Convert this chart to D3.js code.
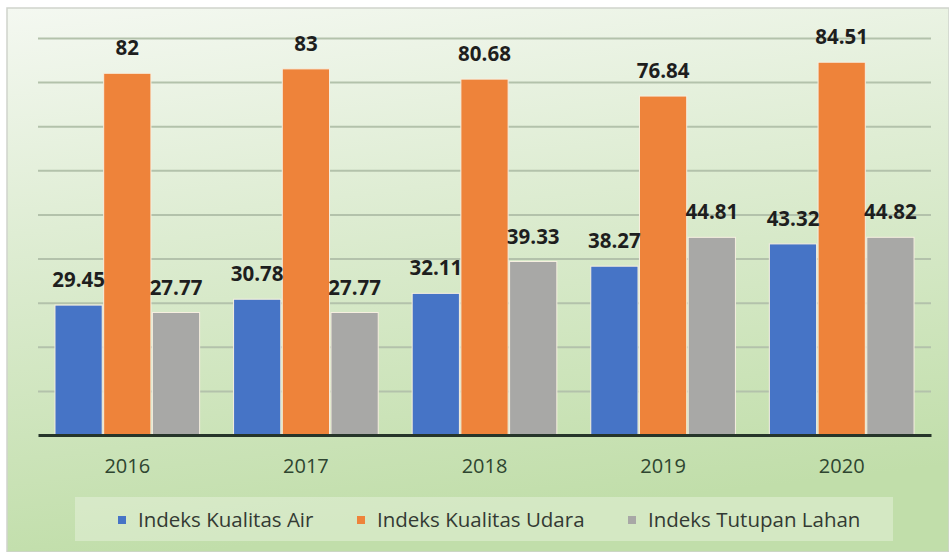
<!DOCTYPE html>
<html>
<head>
<meta charset="utf-8">
<script src="https://cdn.jsdelivr.net/npm/d3@7"></script>
<style>
  body { margin: 0; background: #fff; }
  svg { display: block; }
</style>
</head>
<body>
<div id="vis"></div>
<script>
// chart data
const years = ["2016", "2017", "2018", "2019", "2020"];
const seriesNames = ["Indeks Kualitas Air", "Indeks Kualitas Udara", "Indeks Tutupan Lahan"];
const kualitasAir = [29.45, 30.78, 32.11, 38.27, 43.32];
const kualitasUdara = [82, 83, 80.68, 76.84, 84.51];
const tutupanLahan = [27.77, 27.77, 39.33, 44.81, 44.82];
const labelsAir = ["29.45", "30.78", "32.11", "38.27", "43.32"];
const labelsUdara = ["82", "83", "80.68", "76.84", "84.51"];
const labelsLahan = ["27.77", "27.77", "39.33", "44.81", "44.82"];

const colors = ["#4674C6", "#EE833A", "#A8A8A6"];
const seriesValues = [kualitasAir, kualitasUdara, tutupanLahan];
const seriesLabels = [labelsAir, labelsUdara, labelsLahan];

const W = 949, H = 552;
const plot = { left: 38, right: 931, top: 38, bottom: 435 };

const svg = d3.select("#vis")
  .append("svg")
    .attr("width", W)
    .attr("height", H);

// background gradient
const defs = svg.append("defs");
const grad = defs.append("linearGradient")
    .attr("id", "bg")
    .attr("x1", 0).attr("y1", 0).attr("x2", 0.2).attr("y2", 1);
grad.append("stop").attr("offset", "0%").attr("stop-color", "#f4f8f1");
grad.append("stop").attr("offset", "40%").attr("stop-color", "#dfedd4");
grad.append("stop").attr("offset", "100%").attr("stop-color", "#c1deaa");

svg.append("rect")
    .attr("x", 7).attr("y", 8)
    .attr("width", W - 7).attr("height", H - 8)
    .attr("fill", "url(#bg)")
    .attr("stroke", "#cfd3cc")
    .attr("stroke-width", 1.5);

// scales
const x0 = d3.scaleBand()
    .domain(years)
    .range([plot.left, plot.right])
    .paddingInner(0.19)
    .paddingOuter(0.095);

const x1 = d3.scaleBand()
    .domain(seriesNames)
    .range([0, x0.bandwidth()])
    .paddingInner(0.03);

const y = d3.scaleLinear()
    .domain([0, 90])
    .range([plot.bottom, plot.top]);

// horizontal grid lines
svg.append("g")
    .attr("transform", `translate(${plot.left},0)`)
    .call(d3.axisLeft(y).tickValues(d3.range(10, 91, 10)).tickSize(-(plot.right - plot.left)).tickFormat(""))
    .call(g => g.select(".domain").remove())
    .call(g => g.selectAll(".tick line").attr("stroke", "#b3c2ab").attr("stroke-width", 2));

// bars
const groups = svg.append("g")
  .selectAll("g")
  .data(years)
  .join("g")
    .attr("transform", d => `translate(${x0(d)},0)`);

const barData = (d, i) => seriesNames.map((s, j) => ({ key: s, j: j, value: seriesValues[j][i], label: seriesLabels[j][i] }));

groups.selectAll("rect")
  .data(barData)
  .join("rect")
    .attr("x", d => x1(d.key))
    .attr("y", d => y(d.value))
    .attr("width", x1.bandwidth())
    .attr("height", d => y(0) - y(d.value))
    .attr("fill", d => colors[d.j])
    .attr("stroke", "#f6efe0")
    .attr("stroke-width", 1);

// value labels
groups.selectAll("text")
  .data(barData)
  .join("text")
    .attr("x", d => x1(d.key) + x1.bandwidth() / 2)
    .attr("y", d => y(d.value) - 18)
    .attr("text-anchor", "middle")
    .style("font-family", "'Open Sans', sans-serif")
    .style("font-weight", "bold")
    .style("font-size", "20.5px")
    .attr("fill", "#1e1e1e")
    .text(d => d.label);

// x axis baseline + labels
svg.append("g")
    .attr("transform", `translate(0,${plot.bottom})`)
    .call(d3.axisBottom(x0).tickSize(0).tickPadding(24))
    .call(g => g.select(".domain").attr("stroke", "#26352a").attr("stroke-width", 3))
    .call(g => g.selectAll("text")
        .style("font-family", "'Open Sans', sans-serif")
        .style("font-size", "20px")
        .attr("fill", "#2e4530"));

// legend
svg.append("rect")
    .attr("x", 75).attr("y", 497)
    .attr("width", 818).attr("height", 44)
    .attr("fill", "#eaf3e2")
    .attr("opacity", 0.45);

const legendX = [118, 357, 628];
const legend = svg.append("g")
  .selectAll("g")
  .data(seriesNames)
  .join("g")
    .attr("transform", (d, i) => `translate(${legendX[i]},520)`);

legend.append("rect")
    .attr("x", 0).attr("y", -4)
    .attr("width", 8).attr("height", 8)
    .attr("fill", (d, i) => colors[i]);

legend.append("text")
    .attr("x", 20)
    .attr("dy", "0.35em")
    .style("font-family", "'Open Sans', sans-serif")
    .style("font-size", "20.5px")
    .attr("fill", "#333a33")
    .text(d => d);
</script>
</body>
</html>
